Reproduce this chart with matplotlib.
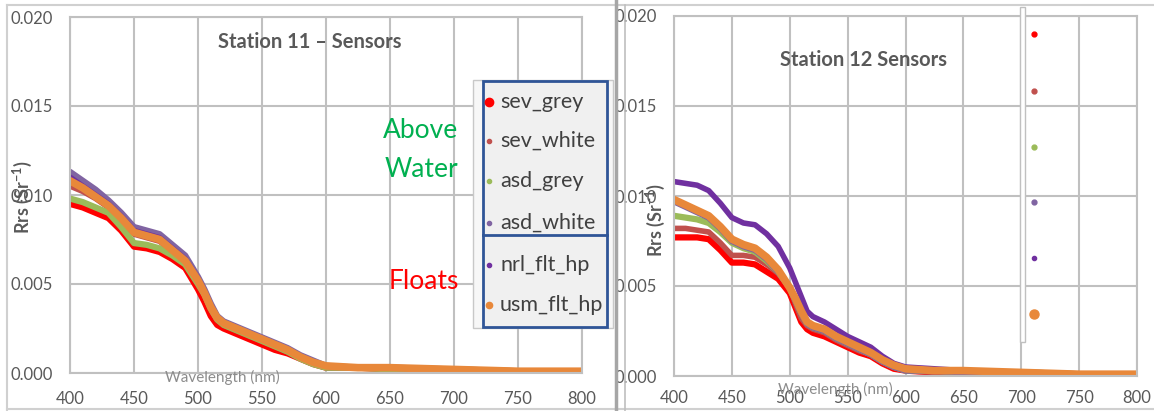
# Rrs spectra, stations 11 and 12 (two Excel-style panels side by side)
import numpy as np
import matplotlib.pyplot as plt
from matplotlib.lines import Line2D
from matplotlib.patches import Rectangle

plt.rcParams['font.family'] = ['Lato', 'DejaVu Sans']
plt.rcParams['mathtext.default'] = 'regular'

W, H = 1154, 411

# ---- data -------------------------------------------------------------
wl = [400, 410, 420, 430, 440, 450, 460, 470, 480, 490, 500, 505, 510, 515,
      520, 530, 540, 550, 560, 570, 580, 590, 600, 625, 650, 700, 750, 800]

names = ['sev_grey', 'sev_white', 'asd_grey', 'asd_white', 'nrl_flt_hp', 'usm_flt_hp']
colors = ['#FF0000', '#C0504D', '#9BBB59', '#8064A2', '#7030A0', '#E8883A']

# station 11
s11_sev_grey = [.0095, .0093, .0090, .0087, .0080, .0071, .0070, .0068, .0064, .0059, .0047, .0040,
                .0032, .0027, .0025, .0022, .0019, .0016, .0013, .0011, .0008, .0005, .0003, .0003,
                .0002, .00015, .0001, .0001]
s11_sev_white = [.0105, .0102, .0098, .0093, .0086, .0078, .0076, .0074, .0068, .0062, .0051, .0044,
                 .0036, .0030, .0027, .0024, .0021, .0018, .0015, .0012, .0008, .0005, .0003, .0003,
                 .0002, .0002, .0001, .0001]
s11_asd_grey = [.0098, .0096, .0093, .0090, .0082, .0073, .0072, .0070, .0066, .0061, .0050, .0044,
                .0036, .0030, .0027, .0024, .0021, .0018, .0015, .0012, .0008, .0005, .0003, .0003,
                .0002, .0002, .0001, .0001]
s11_asd_white = [.0113, .0108, .0103, .0097, .0090, .0082, .0080, .0078, .0072, .0066, .0054, .0047,
                 .0039, .0032, .0029, .0026, .0023, .0020, .0017, .0014, .0010, .0007, .0004, .0003,
                 .0003, .0002, .0001, .0001]
s11_nrl = [.0110, .0105, .0100, .0095, .0088, .0080, .0078, .0076, .0070, .0064, .0053, .0046,
           .0038, .0031, .0028, .0025, .0022, .0019, .0016, .0013, .0009, .0006, .0004, .0003,
           .0003, .0002, .0001, .0001]
s11_usm = [.0108, .0104, .0099, .0094, .0087, .0079, .0077, .0075, .0069, .0063, .0052, .0045,
           .0037, .0031, .0028, .0025, .0022, .0019, .0016, .0013, .0009, .0006, .0004, .0003,
           .0003, .0002, .0001, .0001]

# station 12
s12_sev_grey = [.0077, .0077, .0077, .0076, .0070, .0063, .0063, .0062, .0058, .0054, .0046, .0038,
                .0030, .0026, .0024, .0022, .0019, .0016, .0013, .0011, .0007, .0004, .0003, .0002,
                .0002, .0001, .0000, .0000]
s12_sev_white = [.0082, .0082, .0081, .0080, .0074, .0067, .0067, .0066, .0062, .0057, .0049, .0040,
                 .0032, .0028, .0026, .0024, .0020, .0017, .0014, .0012, .0008, .0005, .0003, .0002,
                 .0002, .0001, .0001, .0000]
s12_asd_grey = [.0089, .0088, .0087, .0085, .0080, .0074, .0071, .0069, .0064, .0058, .0049, .0042,
                .0035, .0029, .0027, .0025, .0021, .0018, .0015, .0012, .0008, .0005, .0003, .0003,
                .0002, .0002, .0001, .0001]
s12_asd_white = [.0097, .0094, .0091, .0088, .0082, .0075, .0072, .0070, .0065, .0058, .0049, .0042,
                 .0035, .0029, .0027, .0025, .0021, .0018, .0015, .0012, .0008, .0005, .0003, .0003,
                 .0002, .0002, .0001, .0001]
s12_nrl = [.0108, .0107, .0106, .0103, .0096, .0088, .0085, .0084, .0079, .0072, .0060, .0052,
           .0044, .0036, .0033, .0030, .0026, .0022, .0019, .0016, .0011, .0007, .0005, .0004,
           .0003, .0002, .0001, .0001]
s12_usm = [.0098, .0095, .0092, .0089, .0083, .0076, .0073, .0071, .0066, .0059, .0049, .0043,
           .0036, .0030, .0028, .0026, .0022, .0019, .0016, .0013, .0009, .0006, .0004, .0003,
           .0003, .0002, .0001, .0001]

station11 = [s11_sev_grey, s11_sev_white, s11_asd_grey, s11_asd_white, s11_nrl, s11_usm]
station12 = [s12_sev_grey, s12_sev_white, s12_asd_grey, s12_asd_white, s12_nrl, s12_usm]

xticks = [400, 450, 500, 550, 600, 650, 700, 750, 800]
yticks = [0.000, 0.005, 0.010, 0.015, 0.020]

GRID = '#C0C0C0'
TXT = '#595959'


def fx(x):
    return x / W


def fy(y):
    return 1 - y / H


def style_axes(ax, xpad, ypad):
    ax.set_xlim(400, 800)
    ax.set_ylim(0, 0.020)
    ax.set_xticks(xticks)
    ax.set_yticks(yticks)
    ax.set_yticklabels(['%.3f' % v for v in yticks])
    ax.grid(True, color=GRID, lw=1.5)
    ax.set_axisbelow(True)
    for sp in ax.spines.values():
        sp.set_color(GRID)
        sp.set_linewidth(1.5)
    ax.tick_params(axis='x', length=0, pad=xpad, labelsize=12, labelcolor=TXT)
    ax.tick_params(axis='y', length=0, pad=ypad, labelsize=12, labelcolor=TXT)


fig = plt.figure(figsize=(W / 100, H / 100), dpi=100)

# left panel: station 11
ax1 = fig.add_axes([fx(70), fy(373), (582 - 70) / W, (373 - 17) / H])
style_axes(ax1, 13, 12)
lws = [4.5, 4, 4.5, 4.5, 4, 5.5]
for vals, c, lw in zip(station11, colors, lws):
    ax1.plot(wl, vals, color=c, lw=lw, solid_capstyle='round', solid_joinstyle='round')

# right panel: station 12
ax2 = fig.add_axes([fx(674), fy(376), (1137 - 674) / W, (376 - 16) / H])
style_axes(ax2, 10, 12)
for vals, c, lw in zip(station12, colors, lws):
    ax2.plot(wl, vals, color=c, lw=lw, solid_capstyle='round', solid_joinstyle='round')

# titles and labels
fig.text(fx(310), fy(42), 'Station 11 \u2013 Sensors', ha='center', va='center',
         fontsize=14.5, fontweight='bold', color=TXT)
fig.text(fx(863), fy(60), 'Station 12 Sensors', ha='center', va='center',
         fontsize=14.5, fontweight='bold', color=TXT)
fig.text(fx(222), fy(377), 'Wavelength (nm)', ha='center', va='center', fontsize=11, color='#8C8C8C')
fig.text(fx(835), fy(389), 'Wavelength (nm)', ha='center', va='center', fontsize=11, color='#8C8C8C')
fig.text(fx(22), fy(197), 'Rrs (Sr$^{-1}$)', ha='center', va='center', rotation=90,
         fontsize=13, fontweight='bold', color=TXT)
fig.text(fx(655), fy(220), 'Rrs (Sr$^{-1}$)', ha='center', va='center', rotation=90,
         fontsize=13, fontweight='bold', color=TXT)

fig.text(fx(421), fy(131), 'Above', ha='center', va='center', fontsize=19, color='#00B050')
fig.text(fx(421), fy(169), 'Water', ha='center', va='center', fontsize=19, color='#00B050')
fig.text(fx(424), fy(281), 'Floats', ha='center', va='center', fontsize=19, color='#FF0000')

# panel frames
frame = dict(transform=fig.transFigure, color='#D0D0D0', lw=1.5)
fig.add_artist(Line2D([fx(7), fx(1153)], [fy(5), fy(5)], **frame))
fig.add_artist(Line2D([fx(7), fx(7)], [fy(5), fy(411)], **frame))
fig.add_artist(Line2D([fx(7), fx(1153)], [fy(409), fy(409)], **frame))
fig.add_artist(Line2D([fx(616), fx(616)], [fy(0), fy(411)], transform=fig.transFigure,
                      color='#A6A6A6', lw=2.5))
fig.add_artist(Line2D([fx(625), fx(625)], [fy(5), fy(411)], transform=fig.transFigure,
                      color='#BFBFBF', lw=1.2))

# legend of station 11
fig.add_artist(Rectangle((fx(473), fy(328)), fx(613) - fx(473), fy(80) - fy(328),
                         transform=fig.transFigure, facecolor='#F7F7F7', edgecolor='#C8C8C8', lw=1))
fig.add_artist(Rectangle((fx(483), fy(327)), fx(607) - fx(483), fy(81) - fy(327),
                         transform=fig.transFigure, facecolor='#F0F0F0', edgecolor='#2F5597', lw=2))
fig.add_artist(Line2D([fx(483), fx(607)], [fy(235), fy(235)], transform=fig.transFigure,
                      color='#2F5597', lw=2))
leg_y = [102, 141, 181, 223, 265, 305]
leg_ms = [6, 3, 3, 3, 3, 4.5]
for name, c, y, ms in zip(names, colors, leg_y, leg_ms):
    fig.add_artist(Line2D([fx(489)], [fy(y)], transform=fig.transFigure, marker='o',
                          ms=ms, color=c, lw=0))
    fig.text(fx(500), fy(y), name, ha='left', va='center', fontsize=15.5, color='#404040')

# clipped legend of station 12 (markers only)
fig.add_artist(Rectangle((fx(1020), fy(342)), fx(5), fy(7) - fy(342),
                         transform=fig.transFigure, facecolor='white', edgecolor='#C0C0C0', lw=1))
leg2_y = [34, 91, 147, 202, 258, 314]
leg2_ms = [3.5, 3.5, 3.5, 3.5, 3, 6.5]
for c, y, ms in zip(colors, leg2_y, leg2_ms):
    fig.add_artist(Line2D([fx(1034)], [fy(y)], transform=fig.transFigure, marker='o',
                          ms=ms, color=c, lw=0))

fig.savefig('out.png', dpi=100)
